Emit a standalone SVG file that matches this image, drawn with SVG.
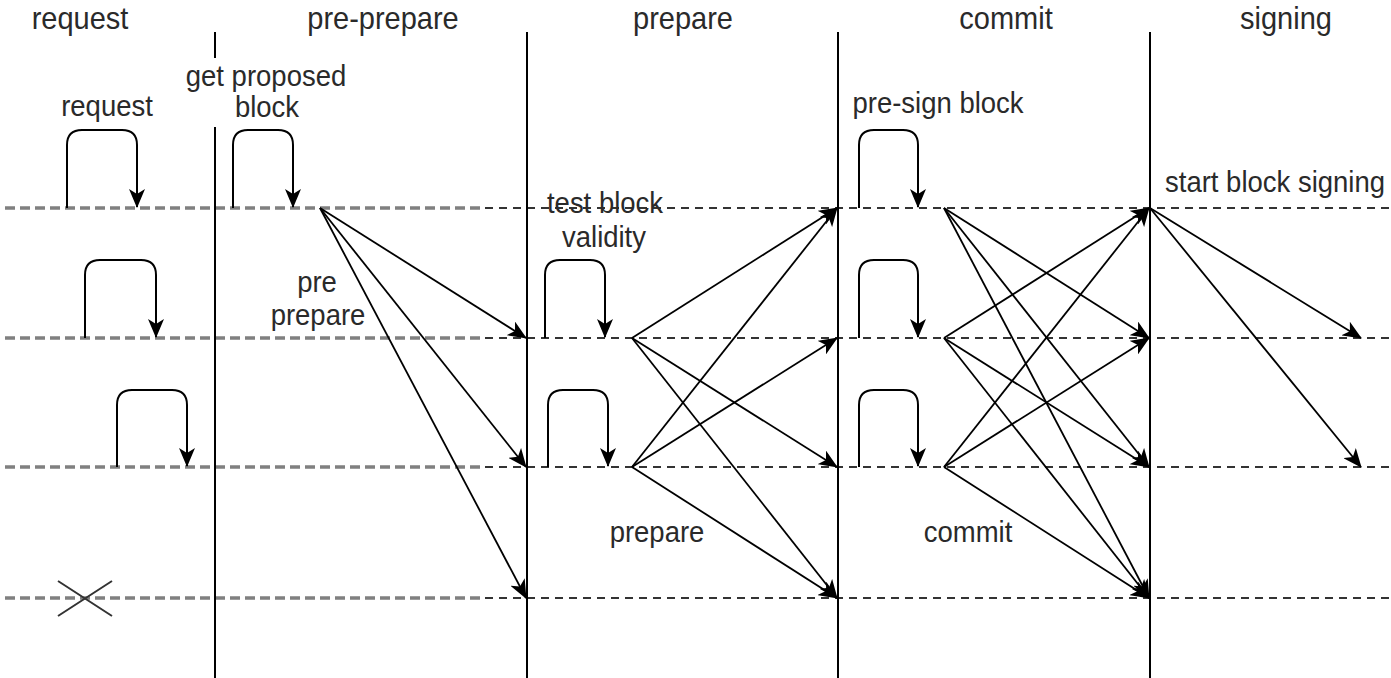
<svg xmlns="http://www.w3.org/2000/svg" width="1391" height="678" viewBox="0 0 1391 678">
  <style>
    .hdr { font-family: "Liberation Sans", Arial, sans-serif; font-size: 29px; fill: #2a2a2a; text-anchor: middle; }
    .lbl { font-family: "Liberation Sans", Arial, sans-serif; font-size: 27.5px; fill: #2a2a2a; text-anchor: middle; }
    .lane { stroke: #000; stroke-width: 2; fill: none; }
    .life-a { stroke: #808080; stroke-width: 3.5; stroke-dasharray: 10 5; fill: none; }
    .life-b { stroke: #333; stroke-width: 2.2; stroke-dasharray: 8 6; fill: none; }
    .loop { stroke: #000; stroke-width: 2; fill: none; marker-end: url(#arrow); }
    .msg { stroke: #000; stroke-width: 1.8; fill: none; marker-end: url(#arrow); }
  </style>
  <defs>
    <marker id="arrow" viewBox="0 0 19 16" refX="18" refY="8" markerWidth="19" markerHeight="16" markerUnits="userSpaceOnUse" orient="auto">
      <path d="M0,0 L19,8 L0,16 L5,8 Z" fill="#000"/>
    </marker>
  </defs>

  <rect width="1391" height="678" fill="#fff"/>

  <!-- phase headers (type is drawn slightly tall) -->
  <g id="headers">
    <text class="hdr" transform="translate(80,29) scale(1,1.08)">request</text>
    <text class="hdr" transform="translate(383,29) scale(1,1.08)">pre-prepare</text>
    <text class="hdr" transform="translate(683,29) scale(1,1.08)">prepare</text>
    <text class="hdr" transform="translate(1006,29) scale(1,1.08)">commit</text>
    <text class="hdr" transform="translate(1286,29) scale(1,1.08)">signing</text>
  </g>

  <!-- node lifelines -->
  <g id="lifelines">
    <line class="life-a" x1="5" y1="208" x2="485" y2="208"/>
    <line class="life-a" x1="5" y1="338" x2="485" y2="338"/>
    <line class="life-a" x1="5" y1="467" x2="485" y2="467"/>
    <line class="life-a" x1="5" y1="598" x2="485" y2="598"/>
    <line class="life-b" x1="485" y1="208" x2="1391" y2="208"/>
    <line class="life-b" x1="485" y1="338" x2="1391" y2="338"/>
    <line class="life-b" x1="485" y1="467" x2="1391" y2="467"/>
    <line class="life-b" x1="485" y1="598" x2="1391" y2="598"/>
  </g>

  <!-- phase boundaries -->
  <g id="phase-boundaries">
    <line class="lane" x1="215" y1="32" x2="215" y2="58"/>
    <line class="lane" x1="215" y1="127" x2="215" y2="678"/>
    <line class="lane" x1="527" y1="32" x2="527" y2="678"/>
    <line class="lane" x1="838" y1="32" x2="838" y2="678"/>
    <line class="lane" x1="1150" y1="32" x2="1150" y2="678"/>
  </g>

  <!-- request phase -->
  <g id="request-phase">
    <text class="lbl" transform="translate(107,116) scale(1,1.1)">request</text>
    <path class="loop" d="M67,208 V145 Q67,130 82,130 H122 Q137,130 137,145 V207"/>
    <path class="loop" d="M85,338 V275 Q85,260 100,260 H141 Q156,260 156,275 V337"/>
    <path class="loop" d="M117,467 V405 Q117,390 132,390 H172 Q187,390 187,405 V466"/>
    <path d="M58,581 L112,616 M58,616 L112,581" stroke="#333" stroke-width="2" fill="none"/>
  </g>

  <!-- pre-prepare phase -->
  <g id="pre-prepare-phase">
    <text class="lbl" transform="translate(266,86) scale(1,1.1)">get proposed</text>
    <text class="lbl" transform="translate(267,117) scale(1,1.1)">block</text>
    <path class="loop" d="M233,208 V145 Q233,130 248,130 H278 Q293,130 293,145 V207"/>
    <text class="lbl" transform="translate(317,292) scale(1,1.1)">pre</text>
    <text class="lbl" transform="translate(318,325) scale(1,1.1)">prepare</text>
  </g>

  <!-- prepare phase -->
  <g id="prepare-phase">
    <text class="lbl" transform="translate(605,213) scale(1,1.1)">test block</text>
    <text class="lbl" transform="translate(604,247) scale(1,1.1)">validity</text>
    <path class="loop" d="M545,338 V275 Q545,260 560,260 H590 Q605,260 605,275 V337"/>
    <path class="loop" d="M548,467 V405 Q548,390 563,390 H593 Q608,390 608,405 V466"/>
    <text class="lbl" transform="translate(657,542) scale(1,1.1)">prepare</text>
  </g>

  <!-- commit phase -->
  <g id="commit-phase">
    <text class="lbl" transform="translate(938,113) scale(1,1.1)">pre-sign block</text>
    <path class="loop" d="M859,208 V145 Q859,130 874,130 H903 Q918,130 918,145 V207"/>
    <path class="loop" d="M859,338 V275 Q859,260 874,260 H903 Q918,260 918,275 V337"/>
    <path class="loop" d="M859,467 V405 Q859,390 874,390 H903 Q918,390 918,405 V466"/>
    <text class="lbl" transform="translate(968,542) scale(1,1.1)">commit</text>
  </g>

  <!-- signing phase -->
  <g id="signing-phase">
    <text class="lbl" transform="translate(1275,192) scale(1,1.1)">start block signing</text>
  </g>

  <!-- messages between nodes -->
  <g id="connectors">
    <!-- pre-prepare broadcast -->
    <line class="msg" x1="320" y1="208" x2="526" y2="338"/>
    <line class="msg" x1="320" y1="208" x2="526" y2="467"/>
    <line class="msg" x1="320" y1="208" x2="526" y2="598"/>
    <!-- prepare broadcast -->
    <line class="msg" x1="632" y1="338" x2="837" y2="208"/>
    <line class="msg" x1="632" y1="338" x2="837" y2="467"/>
    <line class="msg" x1="632" y1="338" x2="837" y2="598"/>
    <line class="msg" x1="632" y1="467" x2="837" y2="208"/>
    <line class="msg" x1="632" y1="467" x2="837" y2="338"/>
    <line class="msg" x1="632" y1="467" x2="837" y2="598"/>
    <!-- commit broadcast -->
    <line class="msg" x1="944" y1="208" x2="1149" y2="338"/>
    <line class="msg" x1="944" y1="208" x2="1149" y2="467"/>
    <line class="msg" x1="944" y1="208" x2="1149" y2="598"/>
    <line class="msg" x1="944" y1="338" x2="1149" y2="208"/>
    <line class="msg" x1="944" y1="338" x2="1149" y2="467"/>
    <line class="msg" x1="944" y1="338" x2="1149" y2="598"/>
    <line class="msg" x1="944" y1="467" x2="1149" y2="208"/>
    <line class="msg" x1="944" y1="467" x2="1149" y2="338"/>
    <line class="msg" x1="944" y1="467" x2="1149" y2="598"/>
    <!-- signing -->
    <line class="msg" x1="1150" y1="208" x2="1361" y2="338"/>
    <line class="msg" x1="1150" y1="208" x2="1361" y2="467"/>
  </g>
</svg>
